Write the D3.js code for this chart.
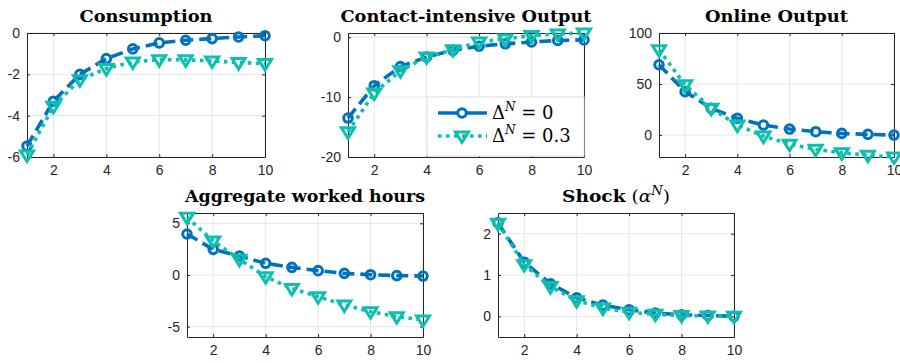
<!DOCTYPE html>
<html>
<head>
<meta charset="utf-8">
<script src="https://cdn.jsdelivr.net/npm/d3@7"></script>
<style>
  body { margin: 0; background: #fff; }
  svg { display: block; }
</style>
</head>
<body>
<div id="my_dataviz"></div>
<script>
// periods on the x axis
var periods = [1, 2, 3, 4, 5, 6, 7, 8, 9, 10];
var xTicks = [2, 4, 6, 8, 10];

// Consumption
var consA = [-5.47, -3.3, -2.0, -1.24, -0.77, -0.48, -0.35, -0.27, -0.19, -0.13];
var consB = [-5.9, -3.55, -2.26, -1.72, -1.4, -1.29, -1.3, -1.35, -1.43, -1.48];
// Contact-intensive Output
var contA = [-13.5, -8.1, -4.9, -3.3, -2.2, -1.5, -1.1, -0.8, -0.55, -0.45];
var contB = [-15.8, -9.3, -5.6, -3.3, -2.1, -0.8, -0.3, 0.27, 0.55, 0.7];
// Online Output
var onlA = [68.9, 42.6, 26.2, 16.4, 9.8, 5.9, 3.3, 1.6, 0.7, 0.0];
var onlB = [83.6, 49.2, 26.2, 9.8, -1.0, -8.9, -14.0, -17.4, -19.7, -21.5];
// Aggregate worked hours
var hoursA = [3.97, 2.48, 1.84, 1.13, 0.74, 0.42, 0.16, 0.03, -0.06, -0.1];
var hoursB = [5.58, 3.3, 1.52, -0.16, -1.3, -2.1, -2.9, -3.55, -4.03, -4.35];
// Shock
var shockA = [2.26, 1.31, 0.79, 0.45, 0.27, 0.16, 0.08, 0.04, 0.02, 0.0];
var shockB = [2.25, 1.25, 0.72, 0.38, 0.2, 0.1, 0.05, 0.02, 0.01, 0.0];

var titles = ["Consumption", "Contact-intensive Output", "Online Output", "Aggregate worked hours", "Shock"];
var yDomains = [[-6, 0], [-20, 0.7], [-21.5, 100], [-6, 6], [-0.5, 2.5]];
var yTicks = [[-6, -4, -2, 0], [-20, -10, 0], [0, 50, 100], [-5, 0, 5], [0, 1, 2]];
var legendLabels = ["0", "0.3"];

var seriesA = [consA, contA, onlA, hoursA, shockA];
var seriesB = [consB, contB, onlB, hoursB, shockB];

// panel boxes in pixels
var boxes = [
  {left: 27, right: 265, top: 33, bottom: 157},
  {left: 348, right: 584, top: 33, bottom: 157},
  {left: 659, right: 894, top: 33, bottom: 157},
  {left: 187, right: 423, top: 213, bottom: 337},
  {left: 498, right: 734, top: 213, bottom: 337}
];
var titleWidths = [133, 251, 143, 240, 108];

var blue = "#0072BD", teal = "#0DBFAE";
var axisColor = "#262626", gridColor = "#e6e6e6";
var tickFont = "'Liberation Sans', Arial, sans-serif";
var serif = "'DejaVu Serif', serif";
var tri = "M-6.5,-4L6.5,-4L0,6.5Z";

var svg = d3.select("#my_dataviz")
  .append("svg")
    .attr("width", 900)
    .attr("height", 363);

boxes.forEach(function(b, i) {
  var x = d3.scaleLinear().domain([1, 10]).range([b.left, b.right]);
  var y = d3.scaleLinear().domain(yDomains[i]).range([b.bottom, b.top]);
  var g = svg.append("g");

  // grid
  g.selectAll(".gx").data(xTicks).enter().append("line")
    .attr("x1", function(d) { return x(d); }).attr("x2", function(d) { return x(d); })
    .attr("y1", b.top).attr("y2", b.bottom)
    .attr("stroke", gridColor).attr("stroke-width", 1);
  g.selectAll(".gy").data(yTicks[i]).enter().append("line")
    .attr("x1", b.left).attr("x2", b.right)
    .attr("y1", function(d) { return y(d); }).attr("y2", function(d) { return y(d); })
    .attr("stroke", gridColor).attr("stroke-width", 1);

  // axes with inward ticks
  g.append("g")
    .attr("transform", "translate(0," + b.bottom + ")")
    .call(d3.axisBottom(x).tickValues(xTicks).tickSizeInner(-3).tickSizeOuter(0).tickPadding(8));
  var yAxis = g.append("g")
    .attr("transform", "translate(" + b.left + ",0)")
    .call(d3.axisLeft(y).tickValues(yTicks[i]).tickSizeInner(-3).tickSizeOuter(0).tickPadding(7));
  g.append("g")
    .attr("transform", "translate(0," + b.top + ")")
    .call(d3.axisTop(x).tickValues(xTicks).tickSizeInner(-3).tickSizeOuter(0).tickFormat(""));
  g.append("g")
    .attr("transform", "translate(" + b.right + ",0)")
    .call(d3.axisRight(y).tickValues(yTicks[i]).tickSizeInner(-3).tickSizeOuter(0).tickFormat(""));
  g.selectAll(".domain").attr("stroke", axisColor).attr("stroke-width", 1);
  g.selectAll(".tick line").attr("stroke", axisColor);
  g.selectAll(".tick text")
    .attr("fill", axisColor)
    .style("font-family", tickFont)
    .style("font-size", "14px");
  yAxis.selectAll(".tick text").text(function(d) { return d < 0 ? "-" + Math.abs(d) : d; });

  // title
  var t = g.append("text")
    .attr("x", (b.left + b.right) / 2)
    .attr("y", b.top - 11)
    .attr("text-anchor", "middle")
    .attr("textLength", titleWidths[i])
    .attr("lengthAdjust", "spacingAndGlyphs")
    .style("font-family", serif)
    .style("font-size", "17px")
    .attr("fill", "#000");
  t.append("tspan").style("font-weight", "bold").text(titles[i]);
  if (i === 4) {
    t.append("tspan").text("\u00a0(");
    t.append("tspan").style("font-style", "italic").text("\u03b1");
    t.append("tspan").style("font-style", "italic").style("font-size", "12px").attr("dy", -7).text("N");
    t.append("tspan").attr("dy", 7).text(")");
  }

  var line = d3.line()
    .x(function(d, k) { return x(periods[k]); })
    .y(function(d) { return y(d); });

  // series A: dashed blue with circles
  g.append("path")
    .datum(seriesA[i])
    .attr("d", line)
    .attr("fill", "none")
    .attr("stroke", blue)
    .attr("stroke-width", 3.6)
    .attr("stroke-dasharray", "12,6");
  g.selectAll(".ca").data(seriesA[i]).enter().append("circle")
    .attr("cx", function(d, k) { return x(periods[k]); })
    .attr("cy", function(d) { return y(d); })
    .attr("r", 4.3)
    .attr("fill", "none")
    .attr("stroke", blue)
    .attr("stroke-width", 3);

  // series B: dotted teal with down triangles
  g.append("path")
    .datum(seriesB[i])
    .attr("d", line)
    .attr("fill", "none")
    .attr("stroke", teal)
    .attr("stroke-width", 3.6)
    .attr("stroke-dasharray", "3.6,4.4");
  g.selectAll(".tb").data(seriesB[i]).enter().append("path")
    .attr("d", tri)
    .attr("transform", function(d, k) { return "translate(" + x(periods[k]) + "," + y(d) + ")"; })
    .attr("fill", "none")
    .attr("stroke", teal)
    .attr("stroke-width", 3)
    .attr("stroke-linejoin", "miter");

  // legend in the second panel
  if (i === 1) {
    var lg = g.append("g");
    lg.append("rect")
      .attr("x", 427).attr("y", 97)
      .attr("width", b.right - 427).attr("height", b.bottom - 97 - 1)
      .attr("fill", "#fff")
      .attr("stroke", "#e3e3e3");
    var rows = [{c: blue, dash: null, y: 113}, {c: teal, dash: "3.6,4.4", y: 136}];
    rows.forEach(function(r, k) {
      lg.append("line")
        .attr("x1", 438).attr("x2", 487)
        .attr("y1", r.y).attr("y2", r.y)
        .attr("stroke", r.c).attr("stroke-width", 3.6)
        .attr("stroke-dasharray", r.dash);
      if (k === 0) {
        lg.append("circle").attr("cx", 462).attr("cy", r.y).attr("r", 4.3)
          .attr("fill", "#fff").attr("stroke", blue).attr("stroke-width", 3);
      } else {
        lg.append("path").attr("d", tri)
          .attr("transform", "translate(462," + r.y + ")")
          .attr("fill", "none").attr("stroke", teal).attr("stroke-width", 3);
      }
      var lt = lg.append("text")
        .attr("x", 492).attr("y", r.y + 6)
        .style("font-family", serif)
        .style("font-size", "18px")
        .attr("fill", "#000");
      lt.append("tspan").text("\u0394");
      lt.append("tspan").style("font-style", "italic").style("font-size", "12px").attr("dy", -8).text("N");
      lt.append("tspan").attr("dy", 8).text(" = " + legendLabels[k]);
    });
  }
});
</script>
</body>
</html>
